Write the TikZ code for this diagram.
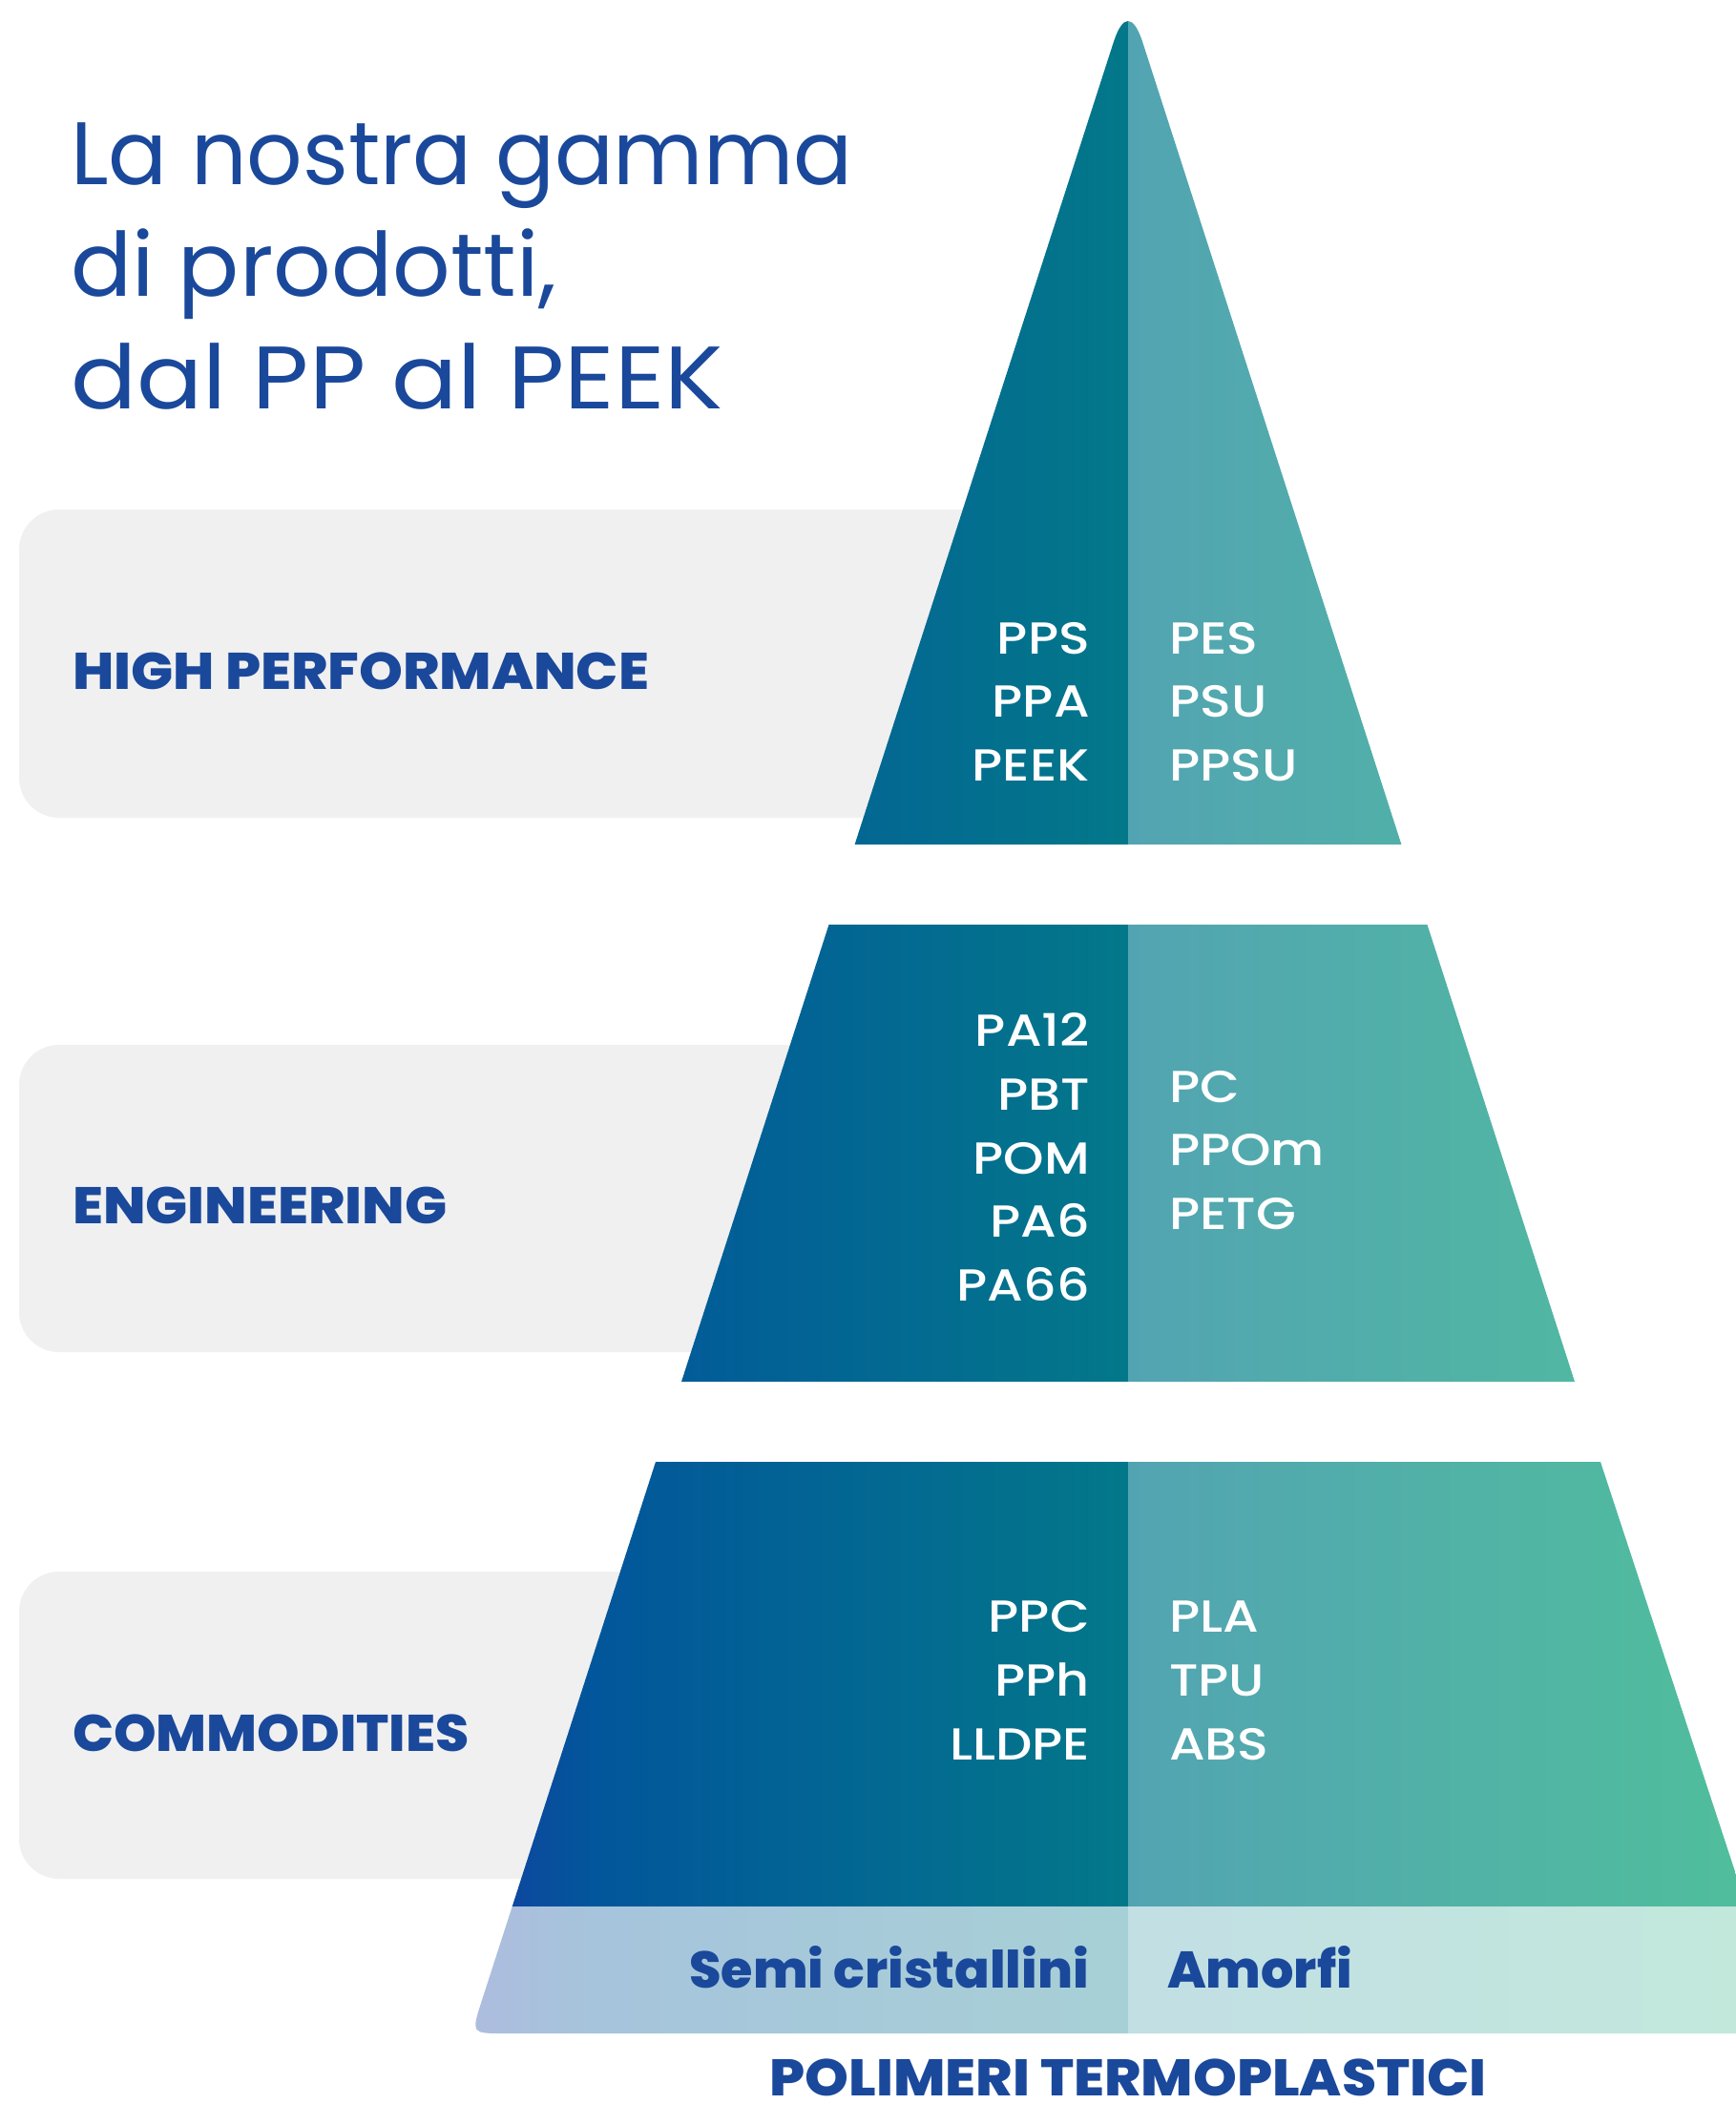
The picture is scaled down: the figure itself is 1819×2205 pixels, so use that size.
\documentclass[tikz,border=0pt]{standalone}
\usepackage{fontspec}
\setmainfont{Poppins}
\IfFontExistsTF{Poppins Medium}{\newfontfamily\labfont{Poppins Medium}[FakeStretch=1.15]}{\newfontfamily\labfont{Poppins}[FakeStretch=1.15]}
\IfFontExistsTF{Poppins ExtraBold}{\newfontfamily\catfont{Poppins ExtraBold}\newfontfamily\catcaps{Poppins ExtraBold}[FakeStretch=1.08]}{\newfontfamily\catfont{Poppins Bold}\newfontfamily\catcaps{Poppins Bold}[FakeStretch=1.08]}
\newfontfamily\titlefont{Poppins}
\definecolor{navy}{HTML}{1A489B}
\definecolor{greybox}{HTML}{F0F0F0}
\definecolor{lga}{RGB}{20,64,160}
\definecolor{lgb}{RGB}{2,86,155}
\definecolor{lgc}{RGB}{3,120,138}
\definecolor{rga}{RGB}{82,164,178}
\definecolor{rgb}{RGB}{80,190,156}
\definecolor{bla}{RGB}{173,188,222}
\definecolor{blb}{RGB}{166,196,220}
\definecolor{blc}{RGB}{167,208,214}
\definecolor{bra}{RGB}{194,223,228}
\definecolor{brb}{RGB}{194,232,220}
\pgfdeclarehorizontalshading{leftgrad}{100bp}{color(0bp)=(lga); color(25bp)=(lga); color(34.39bp)=(lgb); color(75bp)=(lgc); color(100bp)=(lgc)}
\pgfdeclarehorizontalshading{rightgrad}{100bp}{color(0bp)=(rga); color(25bp)=(rga); color(75bp)=(rgb); color(100bp)=(rgb)}
\pgfdeclarehorizontalshading{bandleft}{100bp}{color(0bp)=(bla); color(25bp)=(bla); color(34.39bp)=(blb); color(75bp)=(blc); color(100bp)=(blc)}
\pgfdeclarehorizontalshading{bandright}{100bp}{color(0bp)=(bra); color(25bp)=(bra); color(75bp)=(brb); color(100bp)=(brb)}
\tikzset{
  lab/.style={font=\labfont\fontsize{47}{47}\selectfont, text=white, inner sep=0pt},
  labL/.style={lab, anchor=base east},
  labR/.style={lab, anchor=base west},
  cat/.style={font=\catfont\fontsize{54}{54}\selectfont, text=navy, inner sep=0pt},
  catc/.style={font=\catcaps\fontsize{54}{54}\selectfont, text=navy, inner sep=0pt},
  title/.style={font=\titlefont\fontsize{93}{93}\selectfont, text=navy, inner sep=0pt, anchor=base west},
  greyrect/.style={fill=greybox, rounded corners=42pt},
}
\begin{document}
\begin{tikzpicture}[x=1pt,y=-1pt]
\useasboundingbox (0,0) rectangle (1819,2205);
\fill[white] (0,0) rectangle (1819,2205);
% grey category boxes
\fill[greyrect] (20,534) rectangle (1150,857);
\fill[greyrect] (20,1095) rectangle (1150,1417);
\fill[greyrect] (20,1647) rectangle (1150,1969);
% pyramid
\begin{scope}
\clip (895.6,885) -- (1166.65,44.59) .. controls (1176.37,14.47) and (1187.63,14.47) .. (1197.35,44.59) -- (1468.4,885) -- cycle
      (868.5,969) -- (1495.5,969) -- (1650,1448) -- (714,1448) -- cycle
      (687,1532) -- (1677,1532) -- (1830,1998) -- (536.7,1998) -- cycle;
\shade[shading=leftgrad] (490,0) rectangle (1182,2205);
\shade[shading=rightgrad] (1182,0) rectangle (1830,2205);
\end{scope}
% band
\begin{scope}
\clip (536.7,1998) -- (504.5,2097.7) .. controls (493.8,2131) .. (528.8,2131) -- (1830,2131) -- (1830,1998) -- cycle;
\shade[shading=bandleft] (490,1990) rectangle (1182,2140);
\shade[shading=bandright] (1182,1990) rectangle (1830,2140);
\end{scope}
% title
\node[title] (t1) at (74,193) {\scalebox{0.985}[1]{La nostra gamma}};
\node[title] (t2) at (74,310) {\scalebox{1.02}[1]{di prodotti,}};
\node[title] (t3) at (74,428) {\scalebox{1.1}[1]{dal PP al PEEK}};
% categories
\node[catc, anchor=base west] (hp) at (76,722) {HIGH PERFORMANCE};
\node[catc, anchor=base west] (eng) at (76,1282) {ENGINEERING};
\node[cat, anchor=base west] (com) at (76,1835) {\scalebox{1.05}[1]{COMMODITIES}};
% top labels
\node[labL] (pps) at (1142,685) {PPS};
\node[labL] (ppa) at (1142,751.5) {PPA};
\node[labL] (peek) at (1142,818) {PEEK};
\node[labR] (pes) at (1225,685) {PES};
\node[labR] (psu) at (1225,751.5) {PSU};
\node[labR] (ppsu) at (1225,818) {PPSU};
% middle labels
\node[labL] (pa12) at (1142,1096.7) {PA12};
\node[labL] (pbt) at (1142,1163.3) {PBT};
\node[labL] (pom) at (1142,1230) {POM};
\node[labL] (pa6) at (1142,1296.7) {PA6};
\node[labL] (pa66) at (1142,1363.3) {PA66};
\node[labR] (pc) at (1225,1155) {PC};
\node[labR] (ppom) at (1225,1221.5) {PPOm};
\node[labR] (petg) at (1225,1288) {PETG};
% bottom labels
\node[labL] (ppc) at (1142,1710.7) {PPC};
\node[labL] (pph) at (1142,1777.3) {PPh};
\node[labL] (lldpe) at (1142,1844) {LLDPE};
\node[labR] (pla) at (1225,1710.7) {PLA};
\node[labR] (tpu) at (1225,1777.3) {TPU};
\node[labR] (abs) at (1225,1844) {ABS};
% band texts
\node[cat, anchor=base east] (semi) at (1141,2083) {Semi cristallini};
\node[cat, anchor=base west] (amo) at (1223,2083) {Amorfi};
\node[catc, anchor=base, text depth=0pt] (poly) at (1182,2196) {POLIMERI TERMOPLASTICI};
\end{tikzpicture}
\end{document}
